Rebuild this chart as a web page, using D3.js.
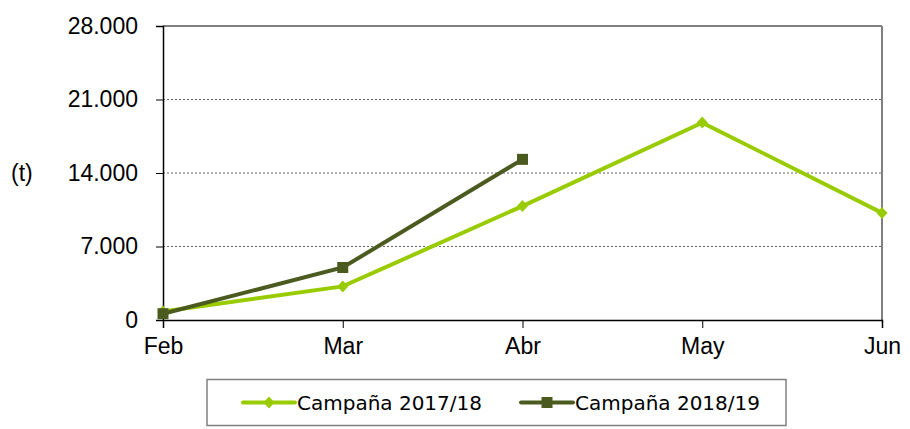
<!DOCTYPE html>
<html>
<head>
<meta charset="utf-8">
<script src="https://cdn.jsdelivr.net/npm/d3@7"></script>
<style>
  body { margin: 0; background: #fff; }
  svg text { font-family: "Liberation Sans", Arial, sans-serif; fill: #000; }
</style>
</head>
<body>
<div id="chart-container"></div>
<script>
// data
const months = ['Feb', 'Mar', 'Abr', 'May', 'Jun']
const yTicks = [0, 7000, 14000, 21000, 28000]
const campana1718 = [800, 3200, 10850, 18800, 10200]
const campana1819 = [600, 5000, 15300]
const seriesNames = ['Campaña 2017/18', 'Campaña 2018/19']
const seriesColors = ['#99cc00', '#4b5a1e']

const width = 910
const height = 429
const margin = { top: 26, right: 28, bottom: 109, left: 163 }
const innerWidth = width - margin.left - margin.right
const innerHeight = height - margin.top - margin.bottom

const svg = d3.select('#chart-container')
  .append('svg')
  .attr('width', width)
  .attr('height', height)

const g = svg.append('g')
  .attr('transform', `translate(${margin.left}, ${margin.top})`)

// schalen
const xScale = d3.scalePoint().domain(months).range([0, innerWidth])
const yScale = d3.scaleLinear().domain([0, 28000]).range([innerHeight, 0])

const fmt = d => d === 0 ? '0' : d3.format(',')(d).replace(/,/g, '.')

// gridlijnen
g.selectAll('.grid')
  .data(yTicks.filter(d => d > 0 && d < 28000))
  .enter()
  .append('line')
  .attr('x1', 0)
  .attr('x2', innerWidth)
  .attr('y1', d => yScale(d))
  .attr('y2', d => yScale(d))
  .attr('stroke', '#666')
  .attr('stroke-width', 1)
  .attr('stroke-dasharray', '2,2')

// rand boven en rechts
g.append('line')
  .attr('x1', 0).attr('x2', innerWidth)
  .attr('y1', 0).attr('y2', 0)
  .attr('stroke', '#808080').attr('stroke-width', 2)
g.append('line')
  .attr('x1', innerWidth).attr('x2', innerWidth)
  .attr('y1', 0).attr('y2', innerHeight)
  .attr('stroke', '#808080').attr('stroke-width', 2)

// y as
const yAxis = g.append('g')
  .call(d3.axisLeft(yScale).tickValues(yTicks).tickFormat(fmt).tickSize(7).tickPadding(18))
yAxis.select('.domain').attr('stroke', '#000').attr('stroke-width', 1.5)
yAxis.selectAll('.tick line').attr('stroke', '#000')
yAxis.selectAll('text').style('font-size', '23px')

// x as
const xAxis = g.append('g')
  .attr('transform', `translate(0, ${innerHeight})`)
  .call(d3.axisBottom(xScale).tickSize(8).tickPadding(10))
xAxis.select('.domain').attr('stroke', '#000').attr('stroke-width', 1.5)
xAxis.selectAll('.tick line').attr('stroke', '#000')
xAxis.selectAll('text').style('font-size', '23px')

// y label
g.append('text')
  .attr('x', -163 + 11)
  .attr('y', yScale(14000) + 8)
  .style('font-size', '23px')
  .text('(t)')

// lijnen
const line = d3.line()
  .x((d, i) => xScale(months[i]))
  .y(d => yScale(d))

const allSeries = [campana1718, campana1819]

allSeries.forEach((values, s) => {
  g.append('path')
    .datum(values)
    .attr('fill', 'none')
    .attr('stroke', seriesColors[s])
    .attr('stroke-width', 4)
    .attr('d', line)
})

// markers
const diamond = 'M0,-6L5.5,0L0,6L-5.5,0Z'
g.selectAll('.m1')
  .data(campana1718)
  .enter()
  .append('path')
  .attr('d', diamond)
  .attr('transform', (d, i) => `translate(${xScale(months[i])}, ${yScale(d)})`)
  .attr('fill', seriesColors[0])

g.selectAll('.m2')
  .data(campana1819)
  .enter()
  .append('rect')
  .attr('x', (d, i) => xScale(months[i]) - 5.5)
  .attr('y', d => yScale(d) - 5.5)
  .attr('width', 11)
  .attr('height', 11)
  .attr('fill', seriesColors[1])

// legenda
const legend = svg.append('g')
legend.append('rect')
  .attr('x', 207).attr('y', 379.5)
  .attr('width', 579).attr('height', 46)
  .attr('fill', '#fff')
  .attr('stroke', '#808080')
  .attr('stroke-width', 1.5)

const legendX = [243, 521]
seriesNames.forEach((name, i) => {
  const x = legendX[i]
  const y = 402.5
  legend.append('line')
    .attr('x1', x).attr('x2', x + 52)
    .attr('y1', y).attr('y2', y)
    .attr('stroke', seriesColors[i])
    .attr('stroke-width', 4)
    .attr('stroke-linecap', 'round')
  if (i === 0) {
    legend.append('path')
      .attr('d', diamond)
      .attr('transform', `translate(${x + 26}, ${y})`)
      .attr('fill', seriesColors[0])
  } else {
    legend.append('rect')
      .attr('x', x + 20.5).attr('y', y - 5.5)
      .attr('width', 11).attr('height', 11)
      .attr('fill', seriesColors[1])
  }
  legend.append('text')
    .attr('x', x + 54)
    .attr('y', y + 7)
    .style('font-family', '"DejaVu Sans", sans-serif')
    .style('font-size', '20px')
    .attr('textLength', 185)
    .text(name)
})
</script>
</body>
</html>
